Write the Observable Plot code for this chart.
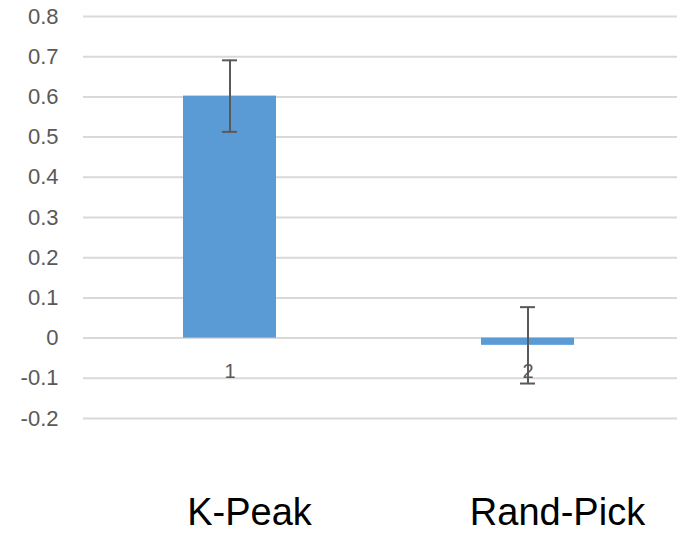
<!DOCTYPE html>
<html>
<head>
<meta charset="utf-8">
<script src="https://cdn.jsdelivr.net/npm/d3@7"></script>
<script src="https://cdn.jsdelivr.net/npm/@observablehq/plot@0.6"></script>
<style>
  body { margin: 0; background: #fff; }
  #wrap { position: relative; width: 694px; height: 533px; background: #fff; }
  #groups { position: absolute; left: 0; top: 494px; width: 694px; height: 40px;
            font-family: "Liberation Sans", Arial, sans-serif; font-size: 38px; color: #000; }
  #groups span { position: absolute; top: 0; line-height: 37px; transform: translateX(-50%); white-space: nowrap; }
</style>
</head>
<body>
<div id="wrap"><div id="groups"></div></div>
<script>
const categories = ["1", "2"];
const means = [0.602, -0.018];
const errors = [0.089, 0.095];
const groupLabels = ["K-Peak", "Rand-Pick"];
const yTicks = [-0.2, -0.1, 0, 0.1, 0.2, 0.3, 0.4, 0.5, 0.6, 0.7, 0.8];

const data = categories.map((c, i) => ({
  cat: c, mean: means[i], lo: means[i] - errors[i], hi: means[i] + errors[i]
}));

const chart = Plot.plot({
  width: 694,
  height: 440,
  marginTop: 16,
  marginBottom: 22,
  marginLeft: 83,
  marginRight: 17,
  style: { fontFamily: "'Liberation Sans', Arial, sans-serif", fontSize: "22px", background: "#fff" },
  x: { domain: categories, paddingInner: 0.687, paddingOuter: 0.338, align: 0.494, axis: null },
  y: { domain: [-0.2, 0.8], axis: null },
  marks: [
    Plot.ruleY(yTicks, { stroke: "#d9d9d9", strokeWidth: 2 }),
    Plot.barY(data, { x: "cat", y: "mean", fill: "#5b9bd5" }),
    Plot.ruleX(data, { x: "cat", y1: "lo", y2: "hi", stroke: "#595959", strokeWidth: 2 }),
    Plot.tickY(data, { x: "cat", y: "lo", stroke: "#595959", strokeWidth: 2, insetLeft: 39, insetRight: 39 }),
    Plot.tickY(data, { x: "cat", y: "hi", stroke: "#595959", strokeWidth: 2, insetLeft: 39, insetRight: 39 }),
    Plot.text(data, { x: "cat", y: () => 0, text: "cat", dy: 33, fill: "#595959", fontSize: 20 }),
    Plot.axisY(yTicks, {
      tickSize: 0, tickPadding: 25, tickFormat: d => String(d),
      fontSize: 22, fill: "#595959", color: "#595959"
    })
  ]
});
const wrap = document.getElementById("wrap");
wrap.insertBefore(chart, wrap.firstChild);

// group labels under the bars, positioned through the x scale
const xs = chart.scale("x");
const offsets = [20, 30];
const groups = document.getElementById("groups");
groupLabels.forEach((g, i) => {
  const s = document.createElement("span");
  s.textContent = g;
  s.style.left = (xs.apply(categories[i]) + xs.bandwidth / 2 + offsets[i]) + "px";
  groups.appendChild(s);
});
</script>
</body>
</html>
